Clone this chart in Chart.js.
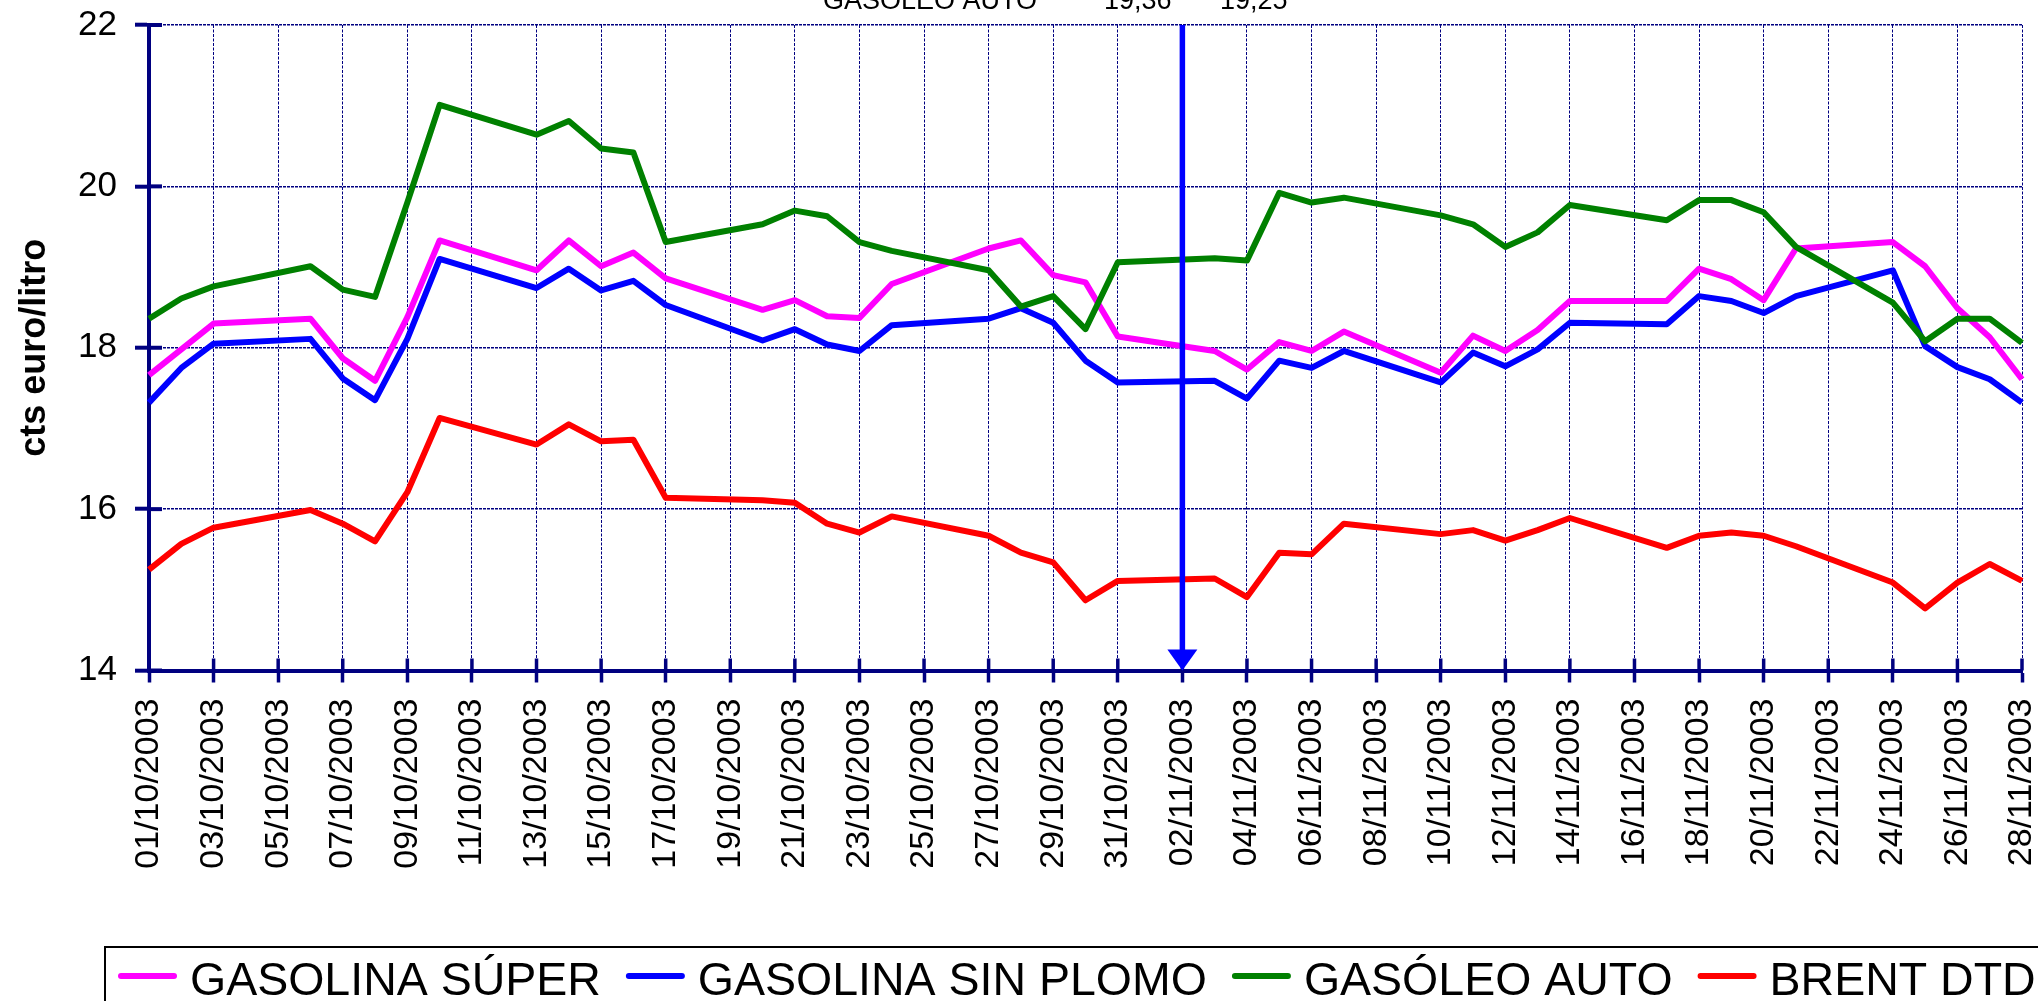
<!DOCTYPE html>
<html>
<head>
<meta charset="utf-8">
<script src="https://cdn.jsdelivr.net/npm/chart.js@4.4.1/dist/chart.umd.min.js"></script>
<style>
html,body{margin:0;padding:0;background:#ffffff;overflow:hidden;}
#wrap{width:2038px;height:1001px;position:relative;}
</style>
</head>
<body>
<div id="wrap"><canvas id="c" width="2038" height="1001"></canvas></div>
<script>
// ---------- DATA ----------
const dates = [
  '01/10/2003','02/10/2003','03/10/2003','04/10/2003','05/10/2003','06/10/2003','07/10/2003','08/10/2003','09/10/2003','10/10/2003',
  '11/10/2003','12/10/2003','13/10/2003','14/10/2003','15/10/2003','16/10/2003','17/10/2003','18/10/2003','19/10/2003','20/10/2003',
  '21/10/2003','22/10/2003','23/10/2003','24/10/2003','25/10/2003','26/10/2003','27/10/2003','28/10/2003','29/10/2003','30/10/2003',
  '31/10/2003','01/11/2003','02/11/2003','03/11/2003','04/11/2003','05/11/2003','06/11/2003','07/11/2003','08/11/2003','09/11/2003',
  '10/11/2003','11/11/2003','12/11/2003','13/11/2003','14/11/2003','15/11/2003','16/11/2003','17/11/2003','18/11/2003','19/11/2003',
  '20/11/2003','21/11/2003','22/11/2003','23/11/2003','24/11/2003','25/11/2003','26/11/2003','27/11/2003','28/11/2003'
];

const gasolinaSuper = [
  17.66, 17.98, 18.30, null, null, 18.36, 17.87, 17.59, 18.38, 19.33,
  null, null, 18.96, 19.33, 19.01, 19.18, 18.86, null, null, 18.47,
  18.59, 18.39, 18.37, 18.79, null, null, 19.23, 19.33, 18.90, 18.81,
  18.14, null, null, 17.96, 17.73, 18.07, 17.96, 18.20, null, null,
  17.69, 18.15, 17.96, 18.22, 18.58, null, null, 18.58, 18.98, 18.85,
  18.59, 19.23, null, null, 19.31, 19.01, 18.49, 18.13, 17.61
];

const gasolinaSinPlomo = [
  17.32, 17.75, 18.05, null, null, 18.11, 17.62, 17.35, 18.11, 19.10,
  null, null, 18.74, 18.98, 18.71, 18.83, 18.53, null, null, 18.09,
  18.23, 18.04, 17.96, 18.28, null, null, 18.36, 18.49, 18.31, 17.84,
  17.57, null, null, 17.59, 17.37, 17.84, 17.75, 17.96, null, null,
  17.57, 17.94, 17.77, 17.98, 18.31, null, null, 18.29, 18.64, 18.58,
  18.43, 18.64, null, null, 18.96, 18.02, 17.76, 17.61, 17.32
];

const gasoleoAuto = [
  18.36, 18.61, 18.76, null, null, 19.01, 18.72, 18.63, 19.80, 21.01,
  null, null, 20.64, 20.81, 20.47, 20.42, 19.31, null, null, 19.53,
  19.70, 19.63, 19.31, 19.20, null, null, 18.96, 18.51, 18.64, 18.23,
  19.06, null, null, 19.11, 19.08, 19.92, 19.80, 19.86, null, null,
  19.64, 19.53, 19.25, 19.43, 19.77, null, null, 19.58, 19.83, 19.83,
  19.68, 19.25, null, null, 18.56, 18.08, 18.36, 18.36, 18.06
];

const brentDtd = [
  15.25, 15.57, 15.77, null, null, 15.99, 15.82, 15.60, 16.21, 17.13,
  null, null, 16.80, 17.05, 16.84, 16.86, 16.14, null, null, 16.11,
  16.08, 15.82, 15.71, 15.91, null, null, 15.67, 15.46, 15.34, 14.87,
  15.11, null, null, 15.14, 14.91, 15.46, 15.44, 15.82, null, null,
  15.69, 15.74, 15.61, 15.74, 15.89, null, null, 15.52, 15.67, 15.71,
  15.67, 15.54, null, null, 15.09, 14.77, 15.09, 15.32, 15.11
];

const seriesNames = ['GASOLINA SÚPER', 'GASOLINA SIN PLOMO', 'GASÓLEO AUTO', 'BRENT DTD'];
const seriesColors = ['#FF00FF', '#0000FF', '#008000', '#FF0000'];
const yMin = 14, yMax = 22, yStep = 2;
const yTitle = 'cts euro/litro';
const markerDate = '02/11/2003';
const headerTexts = ['GASOLEO AUTO', '19,36', '19,25'];

// ---------- STYLE ----------
const FONT = '"Liberation Sans", Arial, Helvetica, sans-serif';
const NAVY = '#000080';

const crossTicks = {
  id: 'crossTicks',
  beforeDatasetsDraw(chart) {
    const ctx = chart.ctx, xs = chart.scales.x, ys = chart.scales.y;
    const ca = chart.chartArea;
    ctx.save();
    ctx.strokeStyle = NAVY;
    ctx.lineWidth = 4;
    ys.ticks.forEach(t => {
      const py = ys.getPixelForValue(t.value);
      ctx.beginPath(); ctx.moveTo(ca.left, py); ctx.lineTo(ca.left + 13, py); ctx.stroke();
    });
    ctx.lineWidth = 3.5;
    dates.forEach((d, i) => {
      if (i % 2 !== 0) return;
      const px = xs.getPixelForValue(i);
      ctx.beginPath(); ctx.moveTo(px, ca.bottom); ctx.lineTo(px, ca.bottom - 12); ctx.stroke();
    });
    ctx.restore();
  }
};

const markerArrow = {
  id: 'markerArrow',
  afterDatasetsDraw(chart) {
    const ctx = chart.ctx, xs = chart.scales.x, ca = chart.chartArea;
    const px = xs.getPixelForValue(dates.indexOf(markerDate));
    ctx.save();
    ctx.strokeStyle = '#0000FF';
    ctx.fillStyle = '#0000FF';
    ctx.lineWidth = 5.5;
    ctx.beginPath(); ctx.moveTo(px, ca.top); ctx.lineTo(px, ca.bottom - 18); ctx.stroke();
    ctx.beginPath();
    ctx.moveTo(px - 15, ca.bottom - 21);
    ctx.lineTo(px + 15, ca.bottom - 21);
    ctx.lineTo(px, ca.bottom);
    ctx.closePath(); ctx.fill();
    ctx.restore();
  }
};

const headerAndLegend = {
  id: 'headerAndLegend',
  afterDraw(chart) {
    const ctx = chart.ctx;
    ctx.save();
    // header (partially cut off at the top of the picture)
    ctx.fillStyle = '#000';
    ctx.font = '27px ' + FONT;
    ctx.textBaseline = 'alphabetic';
    ctx.textAlign = 'left';
    const hx = [823, 1104, 1220];
    headerTexts.forEach((t, i) => ctx.fillText(t, hx[i], 9));

    // legend box
    ctx.strokeStyle = '#000';
    ctx.lineWidth = 2;
    ctx.strokeRect(105, 947, 2100, 120);
    let x = 118;
    ctx.font = '46.5px ' + FONT;
    chart.data.datasets.forEach(ds => {
      ctx.strokeStyle = ds.borderColor;
      ctx.lineWidth = 6;
      ctx.lineCap = 'round';
      ctx.beginPath(); ctx.moveTo(x + 3, 976); ctx.lineTo(x + 56, 976); ctx.stroke();
      x += 59 + 13;
      ctx.fillStyle = '#000';
      ctx.fillText(ds.label, x, 995);
      x += ctx.measureText(ds.label).width + 25;
    });
    ctx.restore();
  }
};

const seriesData = [gasolinaSuper, gasolinaSinPlomo, gasoleoAuto, brentDtd];

new Chart(document.getElementById('c'), {
  type: 'line',
  data: {
    labels: dates,
    datasets: seriesData.map((arr, i) => ({
      label: seriesNames[i],
      data: arr,
      borderColor: seriesColors[i],
      backgroundColor: seriesColors[i],
      borderWidth: 6,
      pointRadius: 0,
      tension: 0,
      spanGaps: true,
      fill: false,
      borderJoinStyle: 'round',
      order: seriesData.length - 1 - i
    }))
  },
  options: {
    responsive: false,
    animation: false,
    devicePixelRatio: 1,
    layout: { padding: { top: 25, right: 16, left: 0, bottom: 0 } },
    plugins: { legend: { display: false }, tooltip: { enabled: false } },
    scales: {
      x: {
        type: 'category',
        offset: false,
        afterFit(s) { s.height = 330.5; s.paddingLeft = 0; s.paddingRight = 0; },
        grid: {
          color: (c) => (c.index % 2 === 0 ? NAVY : 'rgba(0,0,0,0)'),
          lineWidth: 1,
          tickLength: 12,
          tickWidth: 3.5,
          tickColor: (c) => (c.index % 2 === 0 ? NAVY : 'rgba(0,0,0,0)'),
          tickBorderDash: []
        },
        border: { display: true, color: NAVY, width: 4, dash: [3, 1.5] },
        ticks: {
          autoSkip: false,
          minRotation: 90,
          maxRotation: 90,
          padding: 16,
          color: '#000',
          font: { family: FONT, size: 34, lineHeight: 1 },
          callback: (v, i) => (i % 2 === 0 ? dates[i] : '')
        }
      },
      y: {
        min: yMin,
        max: yMax,
        afterFit(s) { s.width = 149; s.paddingTop = 0; s.paddingBottom = 0; },
        grid: {
          color: NAVY,
          lineWidth: 1.4,
          tickLength: 14,
          tickWidth: 4,
          tickColor: NAVY,
          tickBorderDash: []
        },
        border: { display: true, color: NAVY, width: 4, dash: [3, 1] },
        ticks: {
          stepSize: yStep,
          padding: 18,
          color: '#000',
          font: { family: FONT, size: 35 }
        },
        title: {
          display: true,
          text: yTitle,
          color: '#000',
          font: { family: FONT, size: 36, weight: 'bold', lineHeight: 1.2 },
          padding: { top: 13, bottom: 0 }
        }
      }
    }
  },
  plugins: [crossTicks, markerArrow, headerAndLegend]
});
</script>
</body>
</html>
